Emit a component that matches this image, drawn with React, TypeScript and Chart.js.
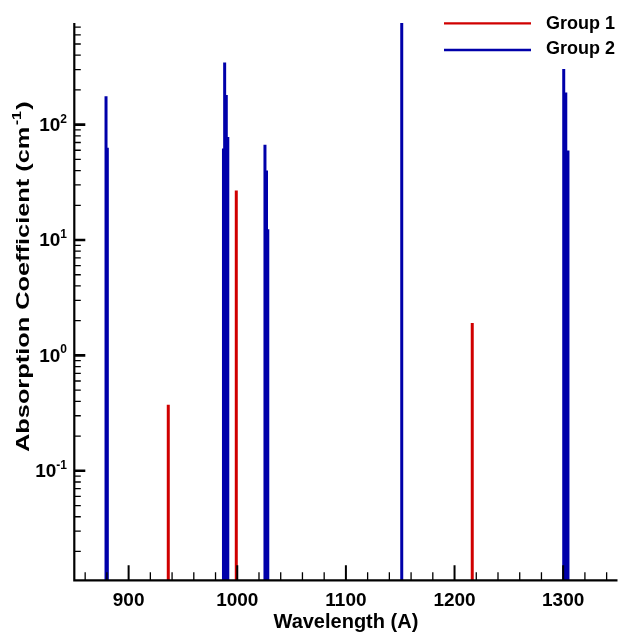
import React, { useEffect, useRef } from "react";
import { Chart, registerables } from "chart.js";

Chart.register(...registerables);

const X_MIN = 850;
const X_MAX = 1350;
const Y_MIN = 0.01125;
const Y_MAX = 760;
const FLOOR = 0.001;

const group1Wavelengths = [936.5, 999.1, 1216.3];
const group1Peaks = [0.373, 26.9, 1.91];

const group2Wavelengths = [879.2, 880.4, 987.3, 988.4, 989.9, 991.3, 1025.5, 1026.9, 1028.1, 1151.4, 1300.5, 1302.4, 1304.4];
const group2Peaks = [176, 63, 62, 345, 181, 78, 67, 40, 12.4, 800, 303, 190, 59.6];

const xMajorTicks = [900, 1000, 1100, 1200, 1300];
const xMinorTicks = [860, 880, 920, 940, 960, 980, 1020, 1040, 1060, 1080, 1120, 1140, 1160, 1180, 1220, 1240, 1260, 1280, 1320, 1340];
const yMajorTicks = [0.1, 1, 10, 100];
const yMajorExponents = ["-1", "0", "1", "2"];
const yMinorMultipliers = [2, 3, 4, 5, 6, 7, 8, 9];
const yDecades = [0.01, 0.1, 1, 10, 100];

const legendLabels = ["Group 1", "Group 2"];
const seriesColors = ["#d00000", "#0000aa"];

const FONT = '"Liberation Sans", Arial, Helvetica, sans-serif';

function spikes(ws: number[], ps: number[]) {
  const pts: { x: number; y: number }[] = [];
  ws.forEach((w, i) => {
    pts.push({ x: w, y: FLOOR });
    pts.push({ x: w, y: ps[i] });
    pts.push({ x: w, y: FLOOR });
  });
  return pts;
}

const decorPlugin = {
  id: "decor",
  afterDraw(chart: any) {
    const ctx: CanvasRenderingContext2D = chart.ctx;
    const { left, right, top, bottom } = chart.chartArea;
    const xs = chart.scales.x;
    const ys = chart.scales.y;
    ctx.save();
    ctx.strokeStyle = "#000";
    ctx.fillStyle = "#000";
    ctx.lineCap = "butt";

    // axes lines
    ctx.lineWidth = 2.2;
    ctx.beginPath();
    ctx.moveTo(left, top);
    ctx.lineTo(left, bottom + 1.1);
    ctx.moveTo(left - 1.1, bottom);
    ctx.lineTo(right, bottom);
    ctx.stroke();

    // x ticks
    ctx.lineWidth = 2;
    ctx.beginPath();
    xMajorTicks.forEach((v) => {
      const px = xs.getPixelForValue(v);
      ctx.moveTo(px, bottom);
      ctx.lineTo(px, bottom - 15);
    });
    ctx.stroke();
    ctx.lineWidth = 1.3;
    ctx.beginPath();
    xMinorTicks.forEach((v) => {
      const px = xs.getPixelForValue(v);
      ctx.moveTo(px, bottom);
      ctx.lineTo(px, bottom - 8);
    });
    ctx.stroke();

    // y ticks
    ctx.lineWidth = 2.6;
    ctx.beginPath();
    yMajorTicks.forEach((v) => {
      const py = ys.getPixelForValue(v);
      ctx.moveTo(left, py);
      ctx.lineTo(left + 11, py);
    });
    ctx.stroke();
    ctx.lineWidth = 1.3;
    ctx.beginPath();
    yDecades.forEach((d) => {
      yMinorMultipliers.forEach((m) => {
        const v = d * m;
        if (v < Y_MIN || v > Y_MAX) return;
        const py = ys.getPixelForValue(v);
        ctx.moveTo(left, py);
        ctx.lineTo(left + 6.5, py);
      });
    });
    ctx.stroke();

    // x tick labels
    ctx.font = `bold 19px ${FONT}`;
    ctx.textAlign = "center";
    ctx.textBaseline = "alphabetic";
    xMajorTicks.forEach((v) => {
      ctx.fillText(String(v), xs.getPixelForValue(v), 605.5);
    });

    // y tick labels
    yMajorTicks.forEach((v, i) => {
      const py = ys.getPixelForValue(v);
      ctx.textAlign = "right";
      ctx.font = `bold 12px ${FONT}`;
      const exp = yMajorExponents[i];
      const ew = ctx.measureText(exp).width;
      ctx.textBaseline = "alphabetic";
      ctx.fillText(exp, 67, py - 2);
      ctx.font = `bold 19px ${FONT}`;
      ctx.textBaseline = "middle";
      ctx.fillText("10", 67 - ew, py + 1);
    });

    // x title
    ctx.font = `bold 20px ${FONT}`;
    ctx.textAlign = "center";
    ctx.textBaseline = "alphabetic";
    ctx.fillText("Wavelength (A)", (left + right) / 2, 627.5);

    // y title with superscript (stretched along its length like the reference)
    const main = "Absorption Coefficient (cm";
    const sup = "-1";
    const close = ")";
    ctx.font = `bold 19px ${FONT}`;
    const wMain = ctx.measureText(main).width;
    const wClose = ctx.measureText(close).width;
    ctx.font = `bold 12px ${FONT}`;
    const wSup = ctx.measureText(sup).width;
    const total = wMain + wSup + wClose + 3;
    const stretch = 352 / total;
    ctx.save();
    ctx.translate(28.5, 452);
    ctx.rotate(-Math.PI / 2);
    ctx.scale(stretch, 1);
    ctx.textAlign = "left";
    ctx.textBaseline = "alphabetic";
    ctx.font = `bold 19px ${FONT}`;
    ctx.fillText(main, 0, 0);
    ctx.font = `bold 12px ${FONT}`;
    ctx.fillText(sup, wMain + 1, -8);
    ctx.font = `bold 19px ${FONT}`;
    ctx.fillText(close, wMain + wSup + 2, 0);
    ctx.restore();

    // legend
    const legendY = [23.3, 50];
    const textBase = [28.5, 53.5];
    legendLabels.forEach((lab, i) => {
      ctx.strokeStyle = seriesColors[i];
      ctx.lineWidth = 2.3;
      ctx.beginPath();
      ctx.moveTo(444, legendY[i]);
      ctx.lineTo(531, legendY[i]);
      ctx.stroke();
      ctx.fillStyle = "#000";
      ctx.font = `bold 18px ${FONT}`;
      ctx.textAlign = "left";
      ctx.textBaseline = "alphabetic";
      ctx.fillText(lab, 546, textBase[i]);
    });

    ctx.restore();
  },
};

export default function App() {
  const ref = useRef<HTMLCanvasElement>(null);
  useEffect(() => {
    if (!ref.current) return;
    const chart = new Chart(ref.current, {
      type: "line",
      data: {
        datasets: [
          {
            label: legendLabels[0],
            data: spikes(group1Wavelengths, group1Peaks),
            borderColor: seriesColors[0],
            borderWidth: 3,
            pointRadius: 0,
            borderJoinStyle: "bevel",
            tension: 0,
            clip: 0,
          },
          {
            label: legendLabels[1],
            data: spikes(group2Wavelengths, group2Peaks),
            borderColor: seriesColors[1],
            borderWidth: 3,
            pointRadius: 0,
            borderJoinStyle: "bevel",
            tension: 0,
            clip: 0,
          },
        ],
      },
      options: {
        animation: false,
        responsive: false,
        devicePixelRatio: 1,
        layout: { padding: { left: 74.3, right: 5.5, top: 23, bottom: 52.7 } },
        plugins: { legend: { display: false }, tooltip: { enabled: false } },
        scales: {
          x: { type: "linear", min: X_MIN, max: X_MAX, display: false },
          y: { type: "logarithmic", min: Y_MIN, max: Y_MAX, display: false },
        },
      },
      plugins: [decorPlugin],
    } as any);
    return () => chart.destroy();
  }, []);
  return (
    <div style={{ position: "fixed", left: 0, top: 0, width: 623, height: 633, background: "#fff" }}>
      <canvas ref={ref} width={623} height={633} style={{ width: 623, height: 633 }} />
    </div>
  );
}
